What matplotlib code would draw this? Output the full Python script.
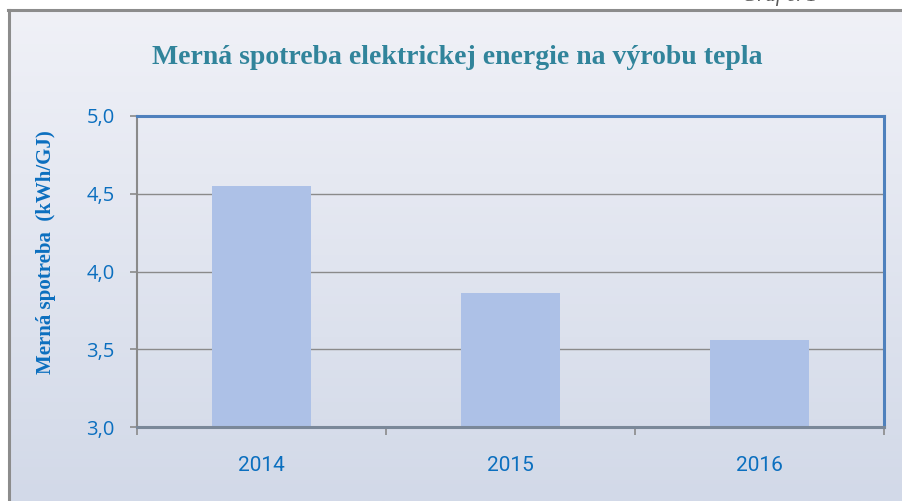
import numpy as np
import matplotlib
matplotlib.use("Agg")
import matplotlib.pyplot as plt
from matplotlib.lines import Line2D

# data
years = ["2014", "2015", "2016"]
values = [4.55, 3.86, 3.56]
y_ticks = [3.0, 3.5, 4.0, 4.5, 5.0]
y_labels = ["3,0", "3,5", "4,0", "4,5", "5,0"]

title = "Merná spotreba elektrickej energie na výrobu tepla"
ylabel = "Merná spotreba  (kWh/GJ)"

W, H = 903, 501
fig = plt.figure(figsize=(W / 100, H / 100), dpi=100)
fig.patch.set_facecolor("white")

# gradient background inside the frame
bg = fig.add_axes([8 / W, 0, 1 - 8 / W, 1 - 10 / H], zorder=0)
grad = np.linspace(0, 1, 256).reshape(-1, 1)
top_c = np.array([0xf0, 0xf1, 0xf7]) / 255
bot_c = np.array([0xd2, 0xd9, 0xe8]) / 255
img = top_c[None, None, :] * (1 - grad[:, :, None]) + bot_c[None, None, :] * grad[:, :, None]
bg.imshow(img, aspect="auto", extent=[0, 1, 0, 1])
bg.set_axis_off()

# frame lines (top and left)
fig.add_artist(Line2D([8 / W, 1], [1 - 10 / H, 1 - 10 / H], color="#8c8c8c", lw=2.2))
fig.add_artist(Line2D([9 / W, 9 / W], [0, 1 - 10 / H], color="#8c8c8c", lw=2.2))

# caption at the very top (cut by the page edge in the original)
fig.text(742 / W, 1 - 1 / H, "Graf č. 1", fontsize=15, style="italic",
         family="Liberation Serif", color="#595959", va="baseline", ha="left")

ax = fig.add_axes([137 / W, 1 - 427 / H, (884 - 137) / W, (427 - 116) / H], zorder=1)
ax.patch.set_alpha(0)

x = np.arange(len(years))
ax.bar(x, np.array(values) - 3.0, bottom=3.0, width=0.4, color="#adc1e7", zorder=2)

ax.set_xlim(-0.5, len(years) - 0.5)
ax.set_ylim(3.0, 5.0)
ax.set_yticks(y_ticks)
ax.set_yticklabels(y_labels)
ax.yaxis.grid(True, color="#8a8a8a", lw=1.0)
ax.set_axisbelow(True)

ax.set_xticks(np.arange(-0.5, len(years), 1.0))
ax.set_xticklabels([])
ax.set_xticks(x, minor=True)
ax.set_xticklabels(years, minor=True)
ax.tick_params(axis="x", which="major", length=6, width=1.2, color="#8a8a8a", direction="out")
ax.tick_params(axis="x", which="minor", length=0, pad=21, labelsize=15, labelcolor="#0b6fbf")
ax.tick_params(axis="y", length=5, width=1.2, color="#8a8a8a", direction="out",
               labelsize=14.5, labelcolor="#0b6fbf", pad=11)
for lab in ax.get_xticklabels(minor=True):
    lab.set_family(["Liberation Sans Narrow", "Roboto", "Liberation Sans"])
for lab in ax.get_yticklabels():
    lab.set_family(["Open Sans", "DejaVu Sans"])

ax.spines["left"].set_color("#8a8a8a")
ax.spines["left"].set_linewidth(1.5)
ax.spines["bottom"].set_color("#7a8899")
ax.spines["bottom"].set_linewidth(2.2)
ax.spines["top"].set_color("#4f81bd")
ax.spines["top"].set_linewidth(2.2)
ax.spines["right"].set_color("#4f81bd")
ax.spines["right"].set_linewidth(2.2)

# y axis title sits a bit above the middle of the plot
fig.text(46 / W, 1 - 252 / H, ylabel, family="Liberation Serif", fontweight="bold",
         fontsize=15, color="#0b6fbf", rotation=90, ha="center", va="center")

fig.text(457 / W, 1 - 58 / H, title, family="Liberation Serif", fontweight="bold",
         fontsize=20, color="#31849b", ha="center", va="center")

fig.savefig("out.png", dpi=100)
